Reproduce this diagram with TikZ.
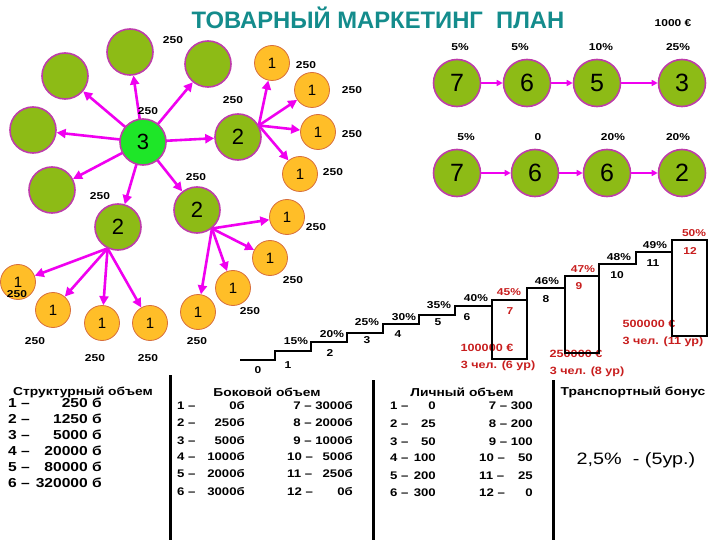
\documentclass[tikz,border=0pt]{standalone}
\usepackage{fontspec}
\setmainfont{Liberation Sans}
\newfontfamily\wf[FakeStretch=1.2]{Liberation Sans}
\usetikzlibrary{arrows.meta,backgrounds}
\definecolor{gfill}{RGB}{141,187,22}
\definecolor{gbord}{RGB}{190,60,170}
\definecolor{brightg}{RGB}{30,230,40}
\definecolor{ofill}{RGB}{255,190,40}
\definecolor{obord}{RGB}{215,110,60}
\definecolor{mag}{RGB}{240,0,240}
\definecolor{titleteal}{RGB}{20,140,140}
\definecolor{redt}{RGB}{200,30,30}
\tikzset{
  gc/.style={circle,fill=gfill,draw=gbord,line width=1.6pt,minimum size=46pt,inner sep=0pt,font=\fontsize{22}{22}\selectfont},
  tc/.style={gc,minimum size=47pt,font=\fontsize{25}{25}\selectfont},
  oc/.style={circle,fill=ofill,draw=obord,line width=0.8pt,minimum size=35pt,inner sep=0pt,font=\fontsize{15}{15}\selectfont},
  arr/.style={draw=mag,line width=2.6pt,-{Triangle[length=9pt,width=9pt]}},
  carr/.style={draw=mag,line width=1.8pt,-{Triangle[length=6pt,width=6pt]}},
  lab/.style={inner sep=0pt,font=\wf\bfseries\fontsize{10}{12}\selectfont},
  pct/.style={inner sep=0pt,font=\wf\bfseries\fontsize{10}{12}\selectfont},
  redlab/.style={inner sep=0pt,text=redt,font=\wf\bfseries\fontsize{10.5}{12}\selectfont},
  hdr/.style={inner sep=0pt,font=\wf\bfseries\fontsize{11.5}{13}\selectfont},
  big/.style={inner sep=0pt,font=\wf\bfseries\fontsize{13}{15}\selectfont},
  sml/.style={inner sep=0pt,font=\wf\bfseries\fontsize{11}{13}\selectfont},
  stair/.style={draw=black,line width=2.6pt},
  vline/.style={draw=black,line width=3pt}
}
\begin{document}
\begin{tikzpicture}[x=1pt,y=-1pt]
\useasboundingbox (0,0) rectangle (720,540);
% title
\node[inner sep=0pt,text=titleteal,font=\bfseries\fontsize{23.8}{25}\selectfont] (title) at (378,18) {ТОВАРНЫЙ МАРКЕТИНГ \ ПЛАН};
\node[pct] (eur) at (673,23) {1000 €};
% green circles
\node[gc] (g1) at (130,52) {};
\node[gc] (g2) at (65,76) {};
\node[gc] (g3) at (33,130) {};
\node[gc] (g4) at (208,64) {};
\node[gc] (g5) at (52,190) {};
\node[gc,fill=brightg] (c3) at (143,142) {3};
\node[gc] (m2a) at (238,137) {2};
\node[gc] (m2b) at (197,210) {2};
\node[gc] (m2c) at (118,227) {2};
% orange circles
\node[oc] (o1) at (272,63) {1};
\node[oc] (o2) at (312,90) {1};
\node[oc] (o3) at (318,132) {1};
\node[oc] (o4) at (300,174) {1};
\node[oc] (o5) at (287,217) {1};
\node[oc] (o6) at (270,258) {1};
\node[oc] (o7) at (233,288) {1};
\node[oc] (o8) at (198,312) {1};
\node[oc] (o9) at (18,282) {1};
\node[oc] (o10) at (53,310) {1};
\node[oc] (o11) at (102,323) {1};
\node[oc] (o12) at (150,323) {1};
% arrows
\begin{pgfonlayer}{background}
\foreach \t in {g1,g2,g3,g4,g5,m2a,m2b,m2c} \draw[arr] (c3.center) -- (\t);
\foreach \t in {o1,o2,o3,o4} \draw[arr] (m2a.29) -- (\t);
\foreach \t in {o5,o6,o7,o8} \draw[arr] (m2b.-51) -- (\t);
\foreach \t in {o9,o10,o11,o12} \draw[arr] (m2c.-116) -- (\t);
\end{pgfonlayer}
% 250 labels
\foreach \p [count=\i] in {(173,40),(306,65),(352,90),(233,100),(148,111),(352,134),(196,177),(333,172),(100,196),(316,227),(293,280),(250,311),(197,341),(35,341),(95,358),(148,358),(17,294)}
  \node[lab] (v\i) at \p {250};
% top right chains
\node[tc] (t1) at (457,83) {7};
\node[tc] (t2) at (527,83) {6};
\node[tc] (t3) at (597,83) {5};
\node[tc] (t4) at (682,83) {3};
\node[tc] (b1) at (457,173) {7};
\node[tc] (b2) at (535,173) {6};
\node[tc] (b3) at (607,173) {6};
\node[tc] (b4) at (682,173) {2};
\draw[carr] (t1) -- (t2);
\draw[carr] (t2) -- (t3);
\draw[carr] (t3) -- (t4);
\draw[carr] (b1) -- (b2);
\draw[carr] (b2) -- (b3);
\draw[carr] (b3) -- (b4);
\node[pct] (pt1) at (460,47) {5\%};
\node[pct] (pt2) at (520,47) {5\%};
\node[pct] (pt3) at (601,47) {10\%};
\node[pct] (pt4) at (678,47) {25\%};
\node[pct] (pb1) at (466,137) {5\%};
\node[pct] (pb2) at (538,137) {0};
\node[pct] (pb3) at (613,137) {20\%};
\node[pct] (pb4) at (678,137) {20\%};
% red labels
\node[redlab] (r1) at (487,348) {100000 €};
\node[redlab] (r2) at (498,366) {3 чел. (6 ур)};
\node[redlab] (r3) at (576,354) {250000 €};
\node[redlab] (r4) at (587,372) {3 чел. (8 ур)};
\node[redlab] (r5) at (649,324) {500000 €};
\node[redlab] (r6) at (663,342) {3 чел. (11 ур)};
% staircase
\draw[stair] (240,360) -- (275,360) -- (275,351) -- (311,351) -- (311,342) -- (347,342) -- (347,333) -- (383,333) -- (383,324) -- (419,324) -- (419,315) -- (455,315) -- (455,306) -- (492,306);
\draw[stair] (492,300) rectangle (527,359);
\draw[stair] (527,300) -- (527,288) -- (565,288);
\draw[stair] (565,276) rectangle (599,353);
\draw[stair] (599,276) -- (599,264) -- (636,264) -- (636,252) -- (672,252);
\draw[stair] (672,240) rectangle (707,336);
% stair labels
\node[pct] (s0) at (258,370) {0};
\node[pct] (s1) at (288,365) {1};
\node[pct] (p1) at (296,341) {15\%};
\node[pct] (s2) at (330,353) {2};
\node[pct] (p2) at (332,334) {20\%};
\node[pct] (s3) at (367,340) {3};
\node[pct] (p3) at (367,322) {25\%};
\node[pct] (s4) at (398,334) {4};
\node[pct] (p4) at (404,317) {30\%};
\node[pct] (s5) at (438,322) {5};
\node[pct] (p5) at (439,305) {35\%};
\node[pct] (s6) at (467,317) {6};
\node[pct] (p6) at (476,298) {40\%};
\node[pct,text=redt] (p7) at (509,292) {45\%};
\node[pct,text=redt] (s7) at (510,311) {7};
\node[pct] (p8) at (547,281) {46\%};
\node[pct] (s8) at (546,299) {8};
\node[pct,text=redt] (p9) at (583,269) {47\%};
\node[pct,text=redt] (s9) at (579,286) {9};
\node[pct] (p10) at (619,257) {48\%};
\node[pct] (s10) at (617,275) {10};
\node[pct] (p11) at (655,245) {49\%};
\node[pct] (s11) at (653,263) {11};
\node[pct,text=redt] (p12) at (694,233) {50\%};
\node[pct,text=redt] (s12) at (690,251) {12};
% bottom vertical lines
\draw[vline] (170,375) -- (170,540);
\draw[vline] (373,380) -- (373,540);
\draw[vline] (553,380) -- (553,540);
% column 1
\node[hdr] (h1) at (83,392) {Структурный объем};
\foreach \n/\v/\y in {1/250 б/403,2/1250 б/419,3/5000 б/435,4/20000 б/451,5/80000 б/467,6/320000 б/483}{
  \node[big,anchor=west] (a\n) at (8,\y) {\n\ –};
  \node[big,anchor=east] (av\n) at (102,\y) {\v};
}
% column 2
\node[hdr] (h2) at (267,392) {Боковой объем};
\foreach \n/\v/\y in {1/0б/406,2/250б/423,3/500б/441,4/1000б/457,5/2000б/474,6/3000б/492}{
  \node[sml,anchor=west] (bl\n) at (177,\y) {\n\ –};
  \node[sml,anchor=east] (bv\n) at (245,\y) {\v};
}
\node[sml,anchor=east] (bk7) at (353,406) {7 – 3000б};
\node[sml,anchor=east] (bk8) at (353,423) {8 – 2000б};
\node[sml,anchor=east] (bk9) at (353,441) {9 – 1000б};
\foreach \n/\v/\y in {10/500б/457,11/250б/474,12/0б/492}{
  \node[sml,anchor=west] (bl\n) at (287,\y) {\n\ –};
  \node[sml,anchor=east] (bv\n) at (353,\y) {\v};
}
% column 3
\node[hdr] (h3) at (462,392) {Личный объем};
\foreach \n/\v/\y in {1/0/406,2/25/424,3/50/442,4/100/458,5/200/476,6/300/493}{
  \node[sml,anchor=west] (cl\n) at (390,\y) {\n\ –};
  \node[sml,anchor=east] (cv\n) at (436,\y) {\v};
}
\node[sml,anchor=east] (ck7) at (533,406) {7 – 300};
\node[sml,anchor=east] (ck8) at (533,424) {8 – 200};
\node[sml,anchor=east] (ck9) at (533,442) {9 – 100};
\foreach \n/\v/\y in {10/50/458,11/25/476,12/0/493}{
  \node[sml,anchor=west] (cl\n) at (479,\y) {\n\ –};
  \node[sml,anchor=east] (cv\n) at (533,\y) {\v};
}
% column 4
\node[hdr] (h4) at (633,392) {Транспортный бонус};
\node[inner sep=0pt,font=\wf\fontsize{16.5}{18}\selectfont] (bonus) at (636,460) {2,5\% \ - (5ур.)};
\end{tikzpicture}
\end{document}
